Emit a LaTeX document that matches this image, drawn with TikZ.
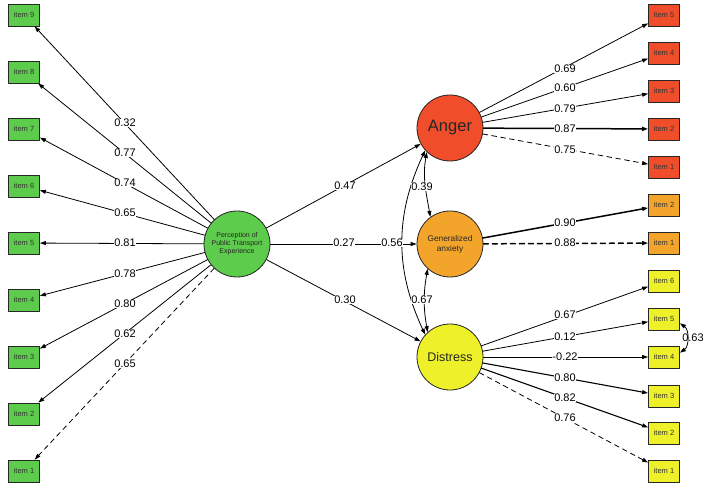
\documentclass[tikz,border=0pt]{standalone}
\usepackage{fontspec}
\setmainfont{Liberation Sans}
\usepackage{xcolor}
\usetikzlibrary{arrows.meta}
\definecolor{pptc}{HTML}{5DCB4B}
\definecolor{angc}{HTML}{F04E2A}
\definecolor{anxc}{HTML}{F3A52B}
\definecolor{disc}{HTML}{EEF02A}
\tikzset{
  latv/.style={circle, draw=black!85, line width=0.8pt, minimum size=66pt, inner sep=0pt, align=center, text=black!85},
  itemv/.style={rectangle, draw=black!85, line width=0.8pt, minimum width=31pt, minimum height=22pt, inner sep=0pt, text=black!80, font=\fontsize{7.5}{9}\selectfont},
  lbl/.style={fill=white, inner sep=0.4pt, font=\fontsize{11}{13}\selectfont},
  ld/.style={-{Triangle[length=6pt,width=4pt]}, line width=0.8pt},
  ldb/.style={ld, line width=1.5pt},
  fixd/.style={ld, dash pattern=on 5pt off 4pt},
  cov/.style={{Triangle[length=6pt,width=4pt]}-{Triangle[length=6pt,width=4pt]}, line width=0.8pt},
  every picture/.style={line cap=round, line join=round}
}
\begin{document}
\begin{tikzpicture}[x=1pt,y=1pt]
    \useasboundingbox (0,0) rectangle (708,490);

    % latent variables
    \node[latv, fill=pptc, font=\fontsize{7}{8}\selectfont] (ppte) at (237,246) {Perception of\\Public Transport\\Experience};
    \node[latv, fill=angc, font=\fontsize{16.5}{18}\selectfont] (anger) at (450,362) {Anger};
    \node[latv, fill=anxc, font=\fontsize{8.3}{10}\selectfont] (anx) at (450,246) {Generalized\\anxiety};
    \node[latv, fill=disc, font=\fontsize{12.5}{14}\selectfont] (distr) at (450,133) {Distress};

    % items, left
    \node[itemv, fill=pptc] (p9) at (24,475) {item 9};
    \node[itemv, fill=pptc] (p8) at (24,418) {item 8};
    \node[itemv, fill=pptc] (p7) at (24,361) {item 7};
    \node[itemv, fill=pptc] (p6) at (24,304) {item 6};
    \node[itemv, fill=pptc] (p5) at (24,247) {item 5};
    \node[itemv, fill=pptc] (p4) at (24,190) {item 4};
    \node[itemv, fill=pptc] (p3) at (24,133) {item 3};
    \node[itemv, fill=pptc] (p2) at (24,76) {item 2};
    \node[itemv, fill=pptc] (p1) at (24,19) {item 1};

    % items, right
    \node[itemv, fill=angc] (a5) at (664,475) {item 5};
    \node[itemv, fill=angc] (a4) at (664,437) {item 4};
    \node[itemv, fill=angc] (a3) at (664,399) {item 3};
    \node[itemv, fill=angc] (a2) at (664,361) {item 2};
    \node[itemv, fill=angc] (a1) at (664,323) {item 1};
    \node[itemv, fill=anxc] (g2) at (664,285) {item 2};
    \node[itemv, fill=anxc] (g1) at (664,247) {item 1};
    \node[itemv, fill=disc] (d6) at (664,209) {item 6};
    \node[itemv, fill=disc] (d5) at (664,171) {item 5};
    \node[itemv, fill=disc] (d4) at (664,133) {item 4};
    \node[itemv, fill=disc] (d3) at (664,94) {item 3};
    \node[itemv, fill=disc] (d2) at (664,57) {item 2};
    \node[itemv, fill=disc] (d1) at (664,19) {item 1};

    \draw[ld] (ppte)--(p9);
    \draw[ld] (ppte)--(p8);
    \draw[ld] (ppte)--(p7);
    \draw[ld] (ppte)--(p6);
    \draw[ld] (ppte)--(p5);
    \draw[ld] (ppte)--(p4);
    \draw[ld] (ppte)--(p3);
    \draw[ld] (ppte)--(p2);
    \draw[fixd] (ppte)--(p1);

    \draw[ld] (ppte)--(anger);
    \draw[ld] (ppte)--(anx);
    \draw[ld] (ppte)--(distr);

    \draw[cov] (anger.222) to[out=245,in=115] (distr.138);
    \draw[cov] (anger.226) to[out=260,in=100] (anx.126);
    \draw[cov] (anx.228) to[out=260,in=100] (distr.132);

    \draw[ld] (anger)--(a5);
    \draw[ld] (anger)--(a4);
    \draw[ld] (anger)--(a3);
    \draw[ldb] (anger)--(a2);
    \draw[fixd] (anger)--(a1);

    \draw[ldb] (anx)--(g2);
    \draw[fixd, line width=1.5pt] (anx)--(g1);

    \draw[ld] (distr)--(d6);
    \draw[ld] (distr)--(d5);
    \draw[ld] (distr)--(d4);
    \draw[ld, line width=1.1pt] (distr)--(d3);
    \draw[ld, line width=1.1pt] (distr)--(d2);
    \draw[fixd] (distr)--(d1);

    \draw[cov] (d5.-15) to[out=-35,in=35] (d4.15);

    % estimates
    \node[lbl] (e9) at (125,367) {0.32};
    \node[lbl] (e8) at (125,337) {0.77};
    \node[lbl] (e7) at (125,307) {0.74};
    \node[lbl] (e6) at (125,277) {0.65};
    \node[lbl] (e5) at (125,247) {0.81};
    \node[lbl] (e4) at (125,216) {0.78};
    \node[lbl] (e3) at (125,186) {0.80};
    \node[lbl] (e2) at (125,156) {0.62};
    \node[lbl] (e1) at (125,126) {0.65};

    \node[lbl] (sang) at (345,304) {0.47};
    \node[lbl] (sanx) at (344,247) {0.27};
    \node[lbl] (sdis) at (345,190) {0.30};
    \node[lbl] (cad) at (392,247) {0.56};
    \node[lbl] (cag) at (422,303) {0.39};
    \node[lbl] (cgd) at (422,190) {0.67};

    \node[lbl] (ea5) at (565,421) {0.69};
    \node[lbl] (ea4) at (565,402) {0.60};
    \node[lbl] (ea3) at (565,381) {0.79};
    \node[lbl] (ea2) at (565,361) {0.87};
    \node[lbl] (ea1) at (565,340) {0.75};
    \node[lbl] (eg2) at (565,267) {0.90};
    \node[lbl] (eg1) at (565,247) {0.88};
    \node[lbl] (ed6) at (565,175) {0.67};
    \node[lbl] (ed5) at (565,153) {0.12};
    \node[lbl] (ed4) at (565,133) {-0.22};
    \node[lbl] (ed3) at (565,112) {0.80};
    \node[lbl] (ed2) at (565,92) {0.82};
    \node[lbl] (ed1) at (565,72) {0.76};
    \node[lbl, fill=none] (cd45) at (693,152) {0.63};
  \end{tikzpicture}
\end{document}
